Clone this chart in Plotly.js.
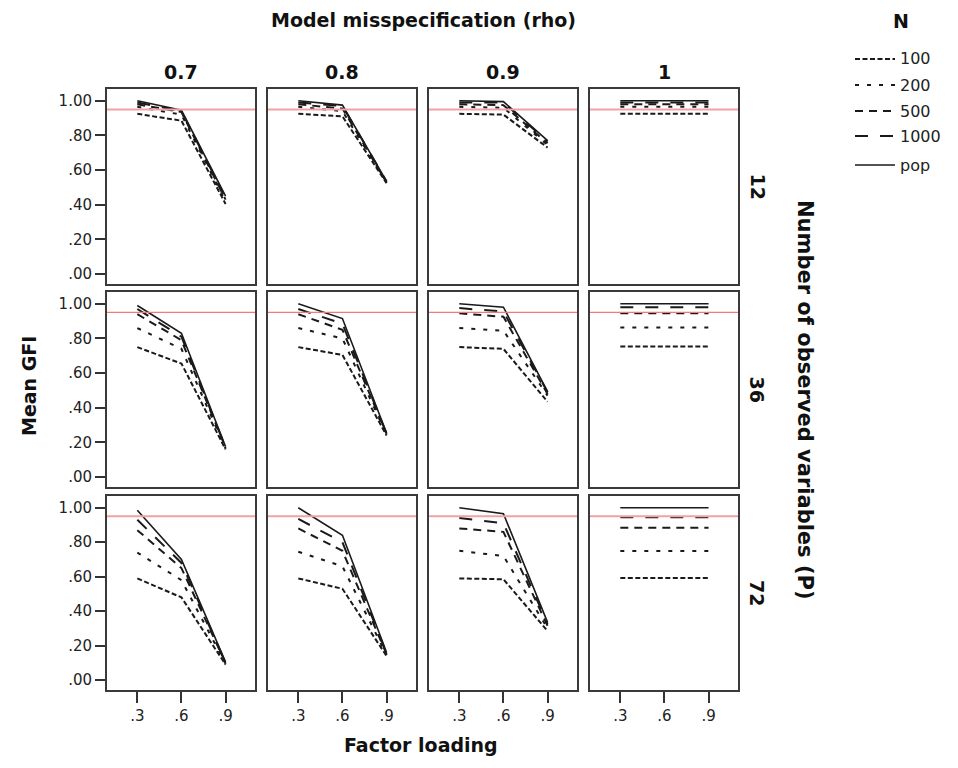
<!DOCTYPE html>
<html>
<head>
<meta charset="utf-8">
<script src="https://cdn.plot.ly/plotly-3.0.1.min.js"></script>
<style>html,body{margin:0;padding:0;background:#fff;}</style>
</head>
<body>
<div id="chart" style="width:958px;height:768px;"></div>
<script>
// ---- data ----
const loadings = [0.3, 0.6, 0.9];
const loadingTicks = ['.3', '.6', '.9'];
const rhoLabels = ['0.7', '0.8', '0.9', '1'];
const pLabels = ['12', '36', '72'];
const nLabels = ['100', '200', '500', '1000', 'pop'];
const gfiTickVals = [0, 0.2, 0.4, 0.6, 0.8, 1.0];
const gfiTickText = ['.00', '.20', '.40', '.60', '.80', '1.00'];
const cutoff = 0.95;

// each: one row per N (100, 200, 500, 1000, pop), values at loadings .3/.6/.9
const gfi_P12_rho07 = [[0.925, 0.885, 0.405], [0.965, 0.92, 0.42], [0.98, 0.935, 0.43], [0.99, 0.94, 0.44], [1.0, 0.945, 0.45]];
const gfi_P12_rho08 = [[0.925, 0.91, 0.525], [0.965, 0.94, 0.53], [0.98, 0.955, 0.53], [0.99, 0.97, 0.535], [1.0, 0.975, 0.535]];
const gfi_P12_rho09 = [[0.925, 0.92, 0.73], [0.965, 0.96, 0.745], [0.98, 0.975, 0.755], [0.99, 0.99, 0.765], [1.0, 0.995, 0.77]];
const gfi_P12_rho1  = [[0.925, 0.925, 0.925], [0.965, 0.965, 0.965], [0.98, 0.98, 0.98], [0.99, 0.99, 0.99], [1.0, 1.0, 1.0]];

const gfi_P36_rho07 = [[0.75, 0.655, 0.16], [0.86, 0.74, 0.165], [0.94, 0.79, 0.17], [0.97, 0.81, 0.17], [0.99, 0.83, 0.175]];
const gfi_P36_rho08 = [[0.75, 0.705, 0.24], [0.86, 0.80, 0.245], [0.94, 0.85, 0.25], [0.97, 0.885, 0.25], [1.0, 0.915, 0.255]];
const gfi_P36_rho09 = [[0.75, 0.74, 0.435], [0.86, 0.845, 0.47], [0.945, 0.925, 0.48], [0.975, 0.955, 0.49], [1.0, 0.98, 0.493]];
const gfi_P36_rho1  = [[0.753, 0.753, 0.753], [0.863, 0.863, 0.863], [0.946, 0.946, 0.946], [0.98, 0.98, 0.98], [1.0, 1.0, 1.0]];

const gfi_P72_rho07 = [[0.59, 0.48, 0.09], [0.74, 0.58, 0.095], [0.87, 0.65, 0.10], [0.93, 0.68, 0.10], [0.985, 0.70, 0.105]];
const gfi_P72_rho08 = [[0.59, 0.53, 0.14], [0.745, 0.66, 0.145], [0.88, 0.75, 0.15], [0.935, 0.80, 0.155], [1.0, 0.84, 0.16]];
const gfi_P72_rho09 = [[0.59, 0.585, 0.285], [0.75, 0.72, 0.30], [0.88, 0.86, 0.315], [0.94, 0.91, 0.325], [1.0, 0.965, 0.335]];
const gfi_P72_rho1  = [[0.593, 0.593, 0.593], [0.749, 0.749, 0.749], [0.884, 0.884, 0.884], [0.945, 0.945, 0.945], [1.0, 1.0, 1.0]];

const panels = [
  [gfi_P12_rho07, gfi_P12_rho08, gfi_P12_rho09, gfi_P12_rho1],
  [gfi_P36_rho07, gfi_P36_rho08, gfi_P36_rho09, gfi_P36_rho1],
  [gfi_P72_rho07, gfi_P72_rho08, gfi_P72_rho09, gfi_P72_rho1]
];

// ---- styles / geometry ----
const W = 958, H = 768;
const px = x => x / W;
const py = y => 1 - y / H;
const colEdges = [[107, 255], [268, 416], [429, 577], [590, 738]];
const rowEdges = [[89, 284], [292, 487], [496, 690]];
const nDash = ['5px,2.5px', '4px,8px', '8px,6px', '13px,12px', 'solid'];
const nWidth = [2, 2, 2, 2, 1.6];
const lineColor = '#1a1a1a';
const refLine = [{color: '#f3a2a2', width: 2}, {color: '#f07a7a', width: 1.3}, {color: '#f3a2a2', width: 2}];
const tickFont = {family: 'DejaVu Sans, sans-serif', size: 15, color: '#222'};
const boldFont = {family: 'DejaVu Sans, sans-serif', size: 19, color: '#111', weight: 'bold'};
const wideBoldFont = {family: 'DejaVu Sans, sans-serif', size: 21, color: '#111', weight: 'bold'};

const traces = [];
const layout = {
  width: W, height: H,
  margin: {l: 0, r: 0, t: 0, b: 0},
  paper_bgcolor: '#fff', plot_bgcolor: '#fff',
  showlegend: false,
  shapes: [], annotations: []
};

panels.forEach((row, r) => {
  row.forEach((series, c) => {
    const i = r * 4 + c + 1;
    const sx = i === 1 ? '' : String(i);
    series.forEach((vals, k) => {
      traces.push({
        type: 'scatter', mode: 'lines',
        x: loadings, y: vals,
        xaxis: 'x' + sx, yaxis: 'y' + sx,
        name: nLabels[k],
        line: {color: lineColor, width: nWidth[k], dash: nDash[k]},
        hoverinfo: 'x+y+name'
      });
    });
    const isBottom = r === 2, isLeft = c === 0;
    layout['xaxis' + sx] = {
      domain: [px(colEdges[c][0]), px(colEdges[c][1])],
      range: [0.094, 1.1], anchor: 'y' + sx,
      showline: true, mirror: true, linecolor: '#3a3a3a', linewidth: 2,
      showgrid: false, zeroline: false, fixedrange: true,
      tickvals: loadings, ticktext: loadingTicks,
      ticks: isBottom ? 'outside' : '', ticklen: 11, tickwidth: 2, tickcolor: '#333',
      showticklabels: isBottom, tickfont: tickFont
    };
    layout['yaxis' + sx] = {
      domain: [py(rowEdges[r][1]), py(rowEdges[r][0])],
      range: [-0.057, 1.068], anchor: 'x' + sx,
      showline: true, mirror: true, linecolor: '#3a3a3a', linewidth: 2,
      showgrid: false, zeroline: false, fixedrange: true,
      tickvals: gfiTickVals, ticktext: gfiTickText,
      ticks: isLeft ? 'outside' : '', ticklen: 10, tickwidth: 2, tickcolor: '#333',
      showticklabels: isLeft, tickfont: tickFont
    };
    layout.shapes.push({
      type: 'line', xref: 'x' + sx + ' domain', yref: 'y' + sx,
      x0: 0, x1: 1, y0: cutoff, y1: cutoff,
      line: refLine[r]
    });
  });
});

// column headers
rhoLabels.forEach((t, c) => {
  layout.annotations.push({
    text: t, xref: 'paper', yref: 'paper',
    x: px((colEdges[c][0] + colEdges[c][1]) / 2), y: py(72),
    showarrow: false, font: boldFont, xanchor: 'center', yanchor: 'middle'
  });
});
// row labels
pLabels.forEach((t, r) => {
  layout.annotations.push({
    text: t, xref: 'paper', yref: 'paper',
    x: px(757), y: py((rowEdges[r][0] + rowEdges[r][1]) / 2),
    showarrow: false, font: boldFont, textangle: 90, xanchor: 'center', yanchor: 'middle'
  });
});
// titles
layout.annotations.push(
  {text: 'Model misspecification (rho)', xref: 'paper', yref: 'paper', x: px(423), y: py(20),
   showarrow: false, font: boldFont, xanchor: 'center', yanchor: 'middle'},
  {text: 'Factor loading', xref: 'paper', yref: 'paper', x: px(421), y: py(745),
   showarrow: false, font: boldFont, xanchor: 'center', yanchor: 'middle'},
  {text: 'Mean GFI', xref: 'paper', yref: 'paper', x: px(29), y: py(386),
   showarrow: false, font: boldFont, textangle: -90, xanchor: 'center', yanchor: 'middle'},
  {text: 'Number of observed variables (P)', xref: 'paper', yref: 'paper', x: px(805), y: py(400),
   showarrow: false, font: wideBoldFont, textangle: 90, xanchor: 'center', yanchor: 'middle'},
  {text: 'N', xref: 'paper', yref: 'paper', x: px(901), y: py(21),
   showarrow: false, font: boldFont, xanchor: 'center', yanchor: 'middle'}
);
// legend (drawn manually to match the original key layout)
const legendY = [59, 85, 111, 136, 165];
nLabels.forEach((t, k) => {
  layout.shapes.push({
    type: 'line', xref: 'paper', yref: 'paper',
    x0: px(855), x1: px(895), y0: py(legendY[k]), y1: py(legendY[k]),
    line: {color: lineColor, width: nWidth[k], dash: nDash[k]}
  });
  layout.annotations.push({
    text: t, xref: 'paper', yref: 'paper', x: px(898), y: py(legendY[k]),
    showarrow: false, xanchor: 'left', yanchor: 'middle',
    font: {family: 'DejaVu Sans, sans-serif', size: 16, color: '#222'}
  });
});

Plotly.newPlot('chart', traces, layout, {displayModeBar: false, staticPlot: true});
</script>
</body>
</html>
